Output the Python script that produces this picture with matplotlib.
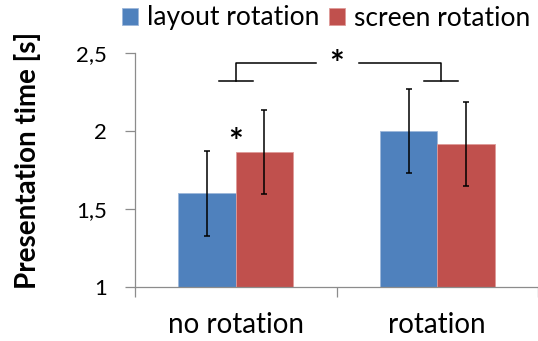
import numpy as np
import matplotlib
matplotlib.use('Agg')
import matplotlib.pyplot as plt

plt.rcParams['font.family'] = ['Lato', 'DejaVu Sans']

categories = ['no rotation', 'rotation']
series_names = ['layout rotation', 'screen rotation']
layout_vals = [1.60, 2.00]
layout_err = [0.27, 0.267]
screen_vals = [1.865, 1.915]
screen_err = [0.27, 0.268]
yticks = [1, 1.5, 2, 2.5]
ytick_labels = ['1', '1,5', '2', '2,5']

# significance bracket between the two conditions
sig_top = 2.438
sig_foot = 2.323
sig_star_y = 2.425
small_star_y = 1.925

blue = '#4F81BD'
red = '#C0504D'
axis_col = '#8C8C8C'

fig = plt.figure(figsize=(5.38, 3.41), dpi=100)
ax = fig.add_axes([135/538, 54/341, 403/538, 234/341])

x = np.arange(len(categories))
w = 0.285
ax.bar(x - w/2, layout_vals, w, color=blue, edgecolor='#9DB7DA', linewidth=0.6,
       label=series_names[0], zorder=2)
ax.bar(x + w/2, screen_vals, w, color=red, edgecolor='#DE9A98', linewidth=0.6,
       label=series_names[1], zorder=2)
ax.errorbar(x - w/2, layout_vals, yerr=layout_err, fmt='none', ecolor='black',
            elinewidth=1.1, capsize=2.5, capthick=1.1, zorder=3)
ax.errorbar(x + w/2, screen_vals, yerr=screen_err, fmt='none', ecolor='black',
            elinewidth=1.1, capsize=2.5, capthick=1.1, zorder=3)

# bracket
lw = 1.1
ax.plot([x[0] - 0.085, x[0] + 0.085], [sig_foot, sig_foot], color='black', lw=lw)
ax.plot([x[0], x[0], x[0] + 0.40], [sig_foot, sig_top, sig_top], color='black', lw=lw)
ax.plot([x[1] + 0.02 - 0.085, x[1] + 0.02 + 0.085], [sig_foot, sig_foot], color='black', lw=lw)
ax.plot([x[0] + 0.61, x[1] + 0.02, x[1] + 0.02], [sig_top, sig_top, sig_foot], color='black', lw=lw)
ax.text(0.5, sig_star_y, '*', ha='center', va='center', fontsize=25, fontweight='bold')
ax.text(x[0], small_star_y, '*', ha='center', va='center', fontsize=25, fontweight='bold')

ax.set_xlim(-0.5, 1.476)
ax.set_ylim(1, 2.5)
ax.set_yticks(yticks)
ax.set_yticklabels(ytick_labels, fontsize=16)
ax.set_xticks([-0.5, 0.5, 1.5])
ax.set_xticklabels([])
ax.set_xticks(x, minor=True)
ax.set_xticklabels(categories, minor=True, fontsize=20)
ax.tick_params(axis='x', which='minor', length=0, pad=18)
ax.tick_params(axis='both', which='major', direction='out', length=7.2,
               color=axis_col, width=0.9, pad=12)
ax.tick_params(axis='y', pad=13)

for s in ['top', 'right']:
    ax.spines[s].set_visible(False)
for s in ['left', 'bottom']:
    ax.spines[s].set_color(axis_col)
    ax.spines[s].set_linewidth(0.9)

fig.text(28/538, 1 - 160/341, 'Presentation time [s]', rotation=90, ha='center',
         va='center', fontsize=20, fontweight='bold')

fig.legend(loc='center', bbox_to_anchor=(326/538, 1 - 18/341), ncol=2, frameon=False,
           fontsize=19, handlelength=0.6, handleheight=0.6, handletextpad=0.35,
           columnspacing=0.35, borderpad=0)

fig.savefig('out.png', dpi=100)
